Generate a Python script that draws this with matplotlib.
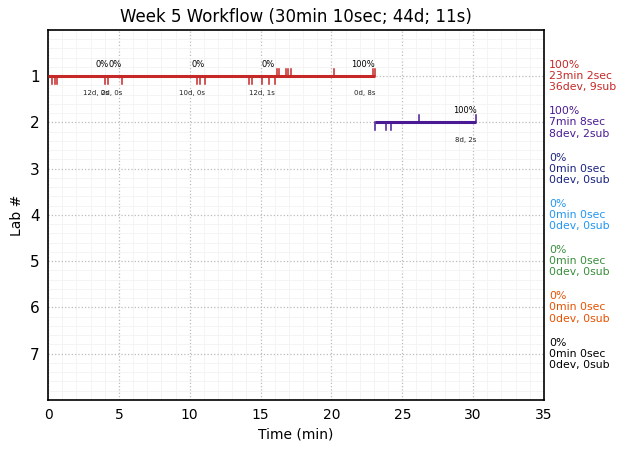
import matplotlib
matplotlib.use("Agg")
import matplotlib.pyplot as plt
from matplotlib.ticker import MultipleLocator

# per-lab summary
labs      = [1, 2, 3, 4, 5, 6, 7]
starts    = [0.0, 23.05, 0, 0, 0, 0, 0]
durations = [23.05, 7.15, 0, 0, 0, 0, 0]
pct       = ["100%", "100%", "0%", "0%", "0%", "0%", "0%"]
times     = ["23min 2sec", "7min 8sec", "0min 0sec", "0min 0sec", "0min 0sec", "0min 0sec", "0min 0sec"]
counts    = ["36dev, 9sub", "8dev, 2sub", "0dev, 0sub", "0dev, 0sub", "0dev, 0sub", "0dev, 0sub", "0dev, 0sub"]
colors    = ["#c62828", "#4a1a94", "#1a237e", "#2196f3", "#388e3c", "#e65100", "#000000"]

# events (minutes)
dev_times = {
    1: [0.28, 0.47, 0.66, 4.04, 4.26, 5.22, 10.54, 10.73, 11.06, 14.16, 14.40, 15.10, 15.62, 16.0],
    2: [23.1, 23.87, 24.23],
}
sub_times = {
    1: [16.14, 16.30, 16.77, 16.94, 17.15, 20.18, 22.91, 23.08],
    2: [26.2, 30.2],
}

# checkpoint labels: (time, percent, detail)
marks = {
    1: [(4.26, "0%", "12d, 0s"), (5.22, "0%", "2d, 0s"), (11.06, "0%", "10d, 0s"),
        (16.0, "0%", "12d, 1s"), (23.08, "100%", "0d, 8s")],
    2: [(30.25, "100%", "8d, 2s")],
}

fig, ax = plt.subplots(figsize=(6.27, 4.53), dpi=100)
fig.subplots_adjust(left=0.0766, right=0.8676, top=0.9338, bottom=0.117)

for lab, s, d, c in zip(labs, starts, durations, colors):
    if d > 0:
        ax.plot([s, s + d], [lab, lab], color=c, lw=2.2, solid_capstyle="butt", zorder=3)
    for t in dev_times.get(lab, []):
        ax.plot([t, t], [lab, lab + 0.16], color=c, lw=1.1, zorder=3)
    for t in sub_times.get(lab, []):
        ax.plot([t, t], [lab, lab - 0.16], color=c, lw=1.1, zorder=3)
    for t, p, det in marks.get(lab, []):
        ax.text(t, lab - 0.25, p, fontsize=6, ha="right", va="center")
        ax.text(t, lab + 0.37, det, fontsize=5, ha="right", va="center", color="#222222")
    ax.text(1.01, lab, f"{pct[lab-1]}\n{times[lab-1]}\n{counts[lab-1]}",
            transform=ax.get_yaxis_transform(), color=c, fontsize=7.8,
            va="center", ha="left", linespacing=1.15)

ax.set_xlim(0, 35)
ax.set_ylim(8, 0)
ax.set_yticks(labs)
ax.xaxis.set_major_locator(MultipleLocator(5))
ax.xaxis.set_minor_locator(MultipleLocator(1))
ax.yaxis.set_minor_locator(MultipleLocator(0.2))
ax.grid(which="major", color="#bbbbbb", ls=":", lw=0.9)
ax.grid(which="minor", color="#f3f3f3", ls="-", lw=0.6)
ax.tick_params(which="both", length=0, pad=6)
ax.tick_params(axis="y", labelsize=11)
for sp in ax.spines.values():
    sp.set_linewidth(1.2)

ax.set_xlabel("Time (min)")
ax.set_ylabel("Lab #")
ax.set_title("Week 5 Workflow (30min 10sec; 44d; 11s)", fontsize=12)

plt.savefig("out.png", dpi=100)
